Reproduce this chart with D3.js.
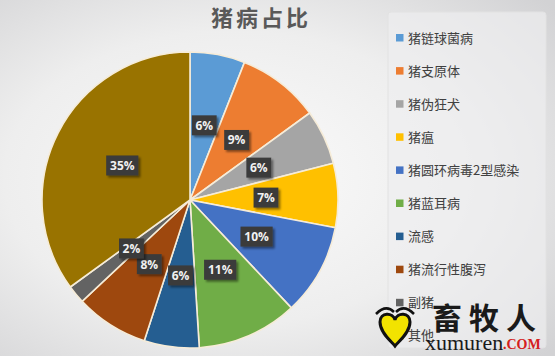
<!DOCTYPE html>
<html>
<head>
<meta charset="utf-8">
<script src="https://cdn.jsdelivr.net/npm/d3@7"></script>
<style>
html,body{margin:0;padding:0;overflow:hidden;}
svg{display:block;}
</style>
</head>
<body>
<svg id="chart" width="555" height="356"></svg>
<script>
const title = "猪病占比";
const categories = ["猪链球菌病","猪支原体","猪伪狂犬","猪瘟","猪圆环病毒2型感染","猪蓝耳病","流感","猪流行性腹泻","副猪","其他"];
const values = [6, 9, 6, 7, 10, 11, 6, 8, 2, 35];
const colors = ["#5b9bd5","#ed7d31","#a5a5a5","#ffc000","#4472c4","#70ad47","#255e91","#9e480e","#636363","#997300"];

const W = 555, H = 356;
const svg = d3.select("#chart");
const defs = svg.append("defs");

const bg = defs.append("radialGradient").attr("id","bg").attr("cx","0.42").attr("cy","0.5").attr("r","0.75");
bg.append("stop").attr("offset","0").attr("stop-color","#fbfbfb");
bg.append("stop").attr("offset","0.55").attr("stop-color","#eeeeee");
bg.append("stop").attr("offset","1").attr("stop-color","#d2d2d4");
svg.append("rect").attr("width",W).attr("height",H).attr("fill","url(#bg)");

const shadow = defs.append("filter").attr("id","sh").attr("x","-30%").attr("y","-30%").attr("width","170%").attr("height","170%");
shadow.append("feDropShadow").attr("dx",2).attr("dy",2).attr("stdDeviation",1.2).attr("flood-color","#000").attr("flood-opacity",0.45);

// Title
svg.append("text").attr("x",261).attr("y",26).attr("text-anchor","middle")
  .attr("font-family","'Noto Sans CJK SC'").attr("font-weight","bold")
  .attr("font-size",22).attr("letter-spacing",3).attr("fill","#595959").text(title);

// Legend box
svg.append("rect").attr("x",388).attr("y",12).attr("width",158).attr("height",336).attr("rx",3)
  .attr("fill","#eeeeef").attr("fill-opacity",0.7).attr("stroke","#e2e2e2");

// Pie
const cx = 190, cy = 200, R = 148;
const pie = d3.pie().sort(null).value(d => d).startAngle(0).endAngle(2*Math.PI);
const arcs = pie(values);
const arc = d3.arc().innerRadius(0).outerRadius(R);
const labelArc = d3.arc().innerRadius(76).outerRadius(76);
const g = svg.append("g").attr("transform",`translate(${cx},${cy})`);
g.selectAll("path.slice").data(arcs).join("path").attr("class","slice")
  .attr("d",arc).attr("fill",(d,i)=>colors[i])
  .attr("stroke","#f6ecd8").attr("stroke-width",1.6).attr("stroke-linejoin","round");

const fmt = v => v + "%";
const lg = g.selectAll("g.lab").data(arcs).join("g").attr("class","lab")
  .attr("transform",d=>{const c=labelArc.centroid(d);return `translate(${c[0]},${c[1]})`;});
lg.each(function(d){
  const sel = d3.select(this);
  const t = fmt(d.data);
  const w = t.length * 7.4 + 10;
  sel.append("rect").attr("x",-w/2).attr("y",-10).attr("width",w).attr("height",20)
    .attr("fill","#3b3b3b").attr("filter","url(#sh)");
  sel.append("text").attr("x",0).attr("y",4.5).attr("text-anchor","middle")
    .attr("font-family","'Open Sans', 'DejaVu Sans', sans-serif").attr("font-weight","bold")
    .attr("font-size",12).attr("fill","#f2f2f2").text(t);
});

// Legend
const leg = svg.append("g");
const legTop = 38, legStep = 33.1;
categories.forEach((c,i)=>{
  const y = legTop + i*legStep;
  leg.append("rect").attr("x",396).attr("y",y-4).attr("width",7.5).attr("height",7.5).attr("fill",colors[i]);
  leg.append("text").attr("x",408).attr("y",y+4.5)
    .attr("font-family","'Noto Sans CJK SC'").attr("font-size",13).attr("fill","#404040").text(c);
});

// Watermark
const wm = svg.append("g");
wm.append("path").attr("d","M380,322 C380,312 393,312 395,320 C397,312 410,312 410,322 C410,333 398,342 395,346 C392,342 380,333 380,322 Z")
  .attr("fill","#f2e300").attr("stroke","#111").attr("stroke-width",3);
wm.append("path").attr("d","M376,314 Q386,304 394,312").attr("fill","none").attr("stroke","#111").attr("stroke-width",2.5);
wm.append("path").attr("d","M396,312 Q404,304 414,314").attr("fill","none").attr("stroke","#111").attr("stroke-width",2.5);
wm.append("text").attr("x",432).attr("y",329).attr("font-family","'Noto Sans CJK SC'").attr("font-weight","bold")
  .attr("font-size",30).attr("letter-spacing",7).attr("fill","#1a1a1a").text("畜牧人");
wm.append("text").attr("x",425).attr("y",350).attr("font-family","'Liberation Serif', serif")
  .attr("font-size",22).attr("fill","#1a1a1a").text("xumuren");
wm.append("text").attr("x",503).attr("y",349).attr("font-family","'Liberation Serif', serif").attr("font-weight","bold")
  .attr("font-size",14).attr("fill","#d42020").text(".COM");
</script>
</body>
</html>
